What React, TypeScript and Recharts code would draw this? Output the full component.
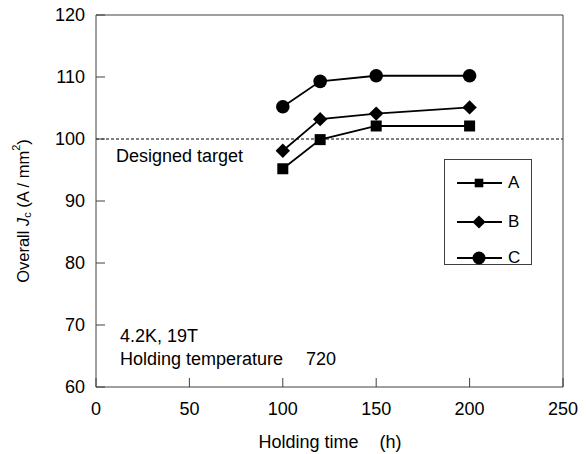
import React from 'react';
import {
  LineChart, Line, XAxis, YAxis, ReferenceLine, Legend, Customized,
} from 'recharts';

const holdingTimes = [100, 120, 150, 200];
const seriesA = [95.2, 99.9, 102.1, 102.1];
const seriesB = [98.1, 103.2, 104.1, 105.1];
const seriesC = [105.2, 109.3, 110.2, 110.2];
const seriesNames = ['A', 'B', 'C'];
const xTicks = [0, 50, 100, 150, 200, 250];
const yTicks = [60, 70, 80, 90, 100, 110, 120];
const targetValue = 100;

const data = holdingTimes.map((t, i) => ({ t, A: seriesA[i], B: seriesB[i], C: seriesC[i] }));

const FONT = 'Liberation Sans, Arial, sans-serif';
const AXIS = '#404040';

const Marker = ({ kind, cx, cy, legend }: any) => {
  if (cx == null || cy == null) return null;
  if (kind === 'A') {
    const h = legend ? 4.3 : 5.5;
    return <rect x={cx - h} y={cy - h} width={2 * h} height={2 * h} fill="#000" />;
  }
  if (kind === 'B') {
    const h = legend ? 6.6 : 7.2;
    return <polygon points={`${cx},${cy - h} ${cx + h},${cy} ${cx},${cy + h} ${cx - h},${cy}`} fill="#000" />;
  }
  return <circle cx={cx} cy={cy} r={legend ? 6.5 : 6.8} fill="#000" />;
};

const LegendBox = () => (
  <div style={{ position: 'relative', width: 86, height: 104, border: `1px solid ${AXIS}`, background: '#fff', fontFamily: FONT, fontSize: 17 }}>
    {seriesNames.map((n, i) => (
      <div key={n} style={{ position: 'absolute', left: 0, top: [23, 62, 98][i] - 13, height: 26, display: 'flex', alignItems: 'center' }}>
        <svg width={60} height={26} style={{ display: 'block' }}>
          <line x1={12} x2={57} y1={13} y2={13} stroke="#000" strokeWidth={1.8} />
          <Marker kind={n} cx={34} cy={13} legend />
        </svg>
        <span style={{ marginLeft: 3, color: '#000' }}>{n}</span>
      </div>
    ))}
  </div>
);

const Annotations = () => (
  <g fontFamily={FONT} fontSize={18} fill="#000">
    <text x={116} y={162}>Designed target</text>
    <text x={120} y={342}>4.2K, 19T</text>
    <text x={120} y={365}>Holding temperature</text>
    <text x={306} y={365}>720</text>
  </g>
);

const YLabel = () => {
  const cx = 23;
  const cy = 211;
  return (
    <text x={cx} y={cy} transform={`rotate(-90 ${cx} ${cy})`} textAnchor="middle" dominantBaseline="central"
      fontFamily={FONT} fontSize={16.5} fill="#000">
      <tspan>Overall </tspan>
      <tspan fontStyle="italic">J</tspan>
      <tspan fontSize={11} dy={4}>c</tspan>
      <tspan dy={-4}> (A / mm</tspan>
      <tspan fontSize={11} dy={-7}>2</tspan>
      <tspan dy={7}>)</tspan>
    </text>
  );
};

const XLabel = () => (
  <text x={330} y={448} textAnchor="middle" fontFamily={FONT} fontSize={18} fill="#000">
    <tspan>Holding time</tspan>
    <tspan dx={21}>(h)</tspan>
  </text>
);

export default function App() {
  const tickStyle = { fontFamily: FONT, fontSize: 18, fill: '#000' };
  return (
    <div style={{ position: 'relative', width: 586, height: 454, margin: '-8px 0 0 -8px' }}>
      <LineChart width={586} height={454} data={data} margin={{ top: 14, right: 22, bottom: 0, left: 0 }}>
        <XAxis xAxisId="bottom" dataKey="t" type="number" domain={[0, 250]} ticks={xTicks} orientation="bottom"
          height={67} stroke={AXIS} tickSize={-9} tickMargin={24} tick={tickStyle} interval={0} allowDataOverflow />
        <XAxis xAxisId="top" dataKey="t" type="number" domain={[0, 250]} ticks={xTicks} orientation="top"
          height={1} stroke={AXIS} tickSize={-9} tick={false} interval={0} />
        <YAxis yAxisId="left" type="number" domain={[60, 120]} ticks={yTicks} orientation="left"
          width={96} stroke={AXIS} tickSize={-9} tickMargin={20} tick={tickStyle} interval={0} />
        <YAxis yAxisId="right" type="number" domain={[60, 120]} ticks={yTicks} orientation="right"
          width={1} stroke={AXIS} tickSize={-9} tick={false} interval={0} />
        <ReferenceLine xAxisId="bottom" yAxisId="left" y={targetValue} stroke="#000" strokeWidth={1} strokeDasharray="3 2" />
        {seriesNames.map((n) => (
          <Line key={n} xAxisId="bottom" yAxisId="left" dataKey={n} stroke="#000" strokeWidth={1.8}
            isAnimationActive={false}
            dot={(p: any) => <Marker key={`${n}-${p.index}`} kind={n} cx={p.cx} cy={p.cy} />}
            activeDot={false} />
        ))}
        <Legend layout="vertical" align="center" verticalAlign="middle" content={<LegendBox />}
          wrapperStyle={{ left: 444, top: 159, width: 88, height: 106 }} />
        <Customized component={Annotations} />
        <Customized component={YLabel} />
        <Customized component={XLabel} />
      </LineChart>
    </div>
  );
}
